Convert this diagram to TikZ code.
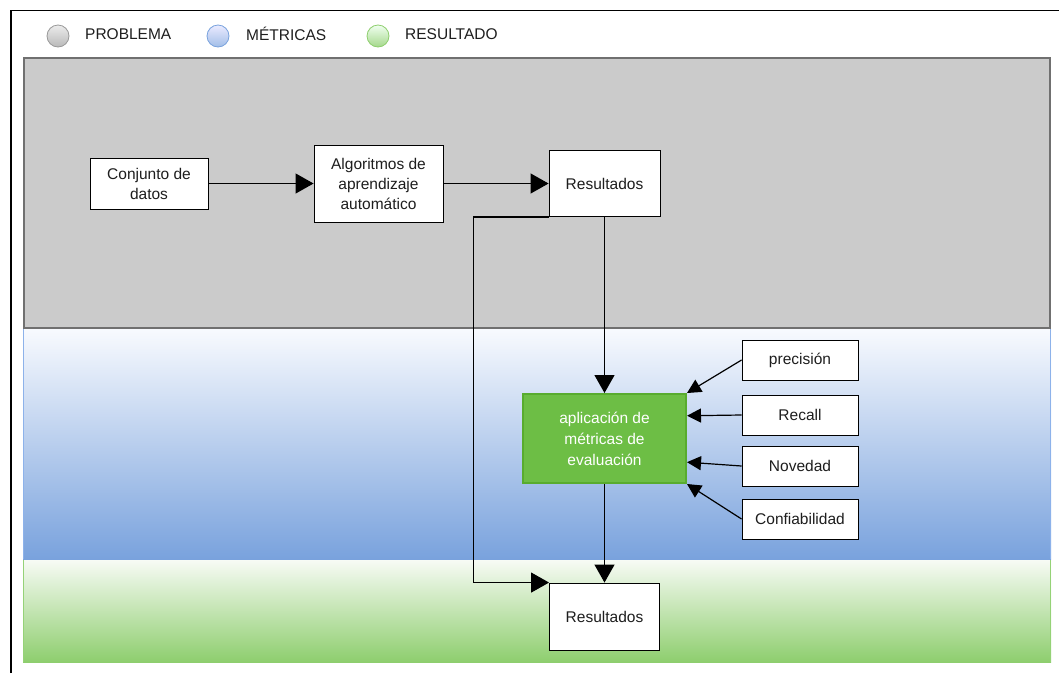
\documentclass[tikz,border=0pt]{standalone}
\usepackage{fontspec}
\setmainfont{Liberation Sans}
\usetikzlibrary{arrows.meta,calc}

\definecolor{ink}{HTML}{1E1E1E}
\definecolor{bandgray}{HTML}{CBCBCB}
\definecolor{bandgrayline}{HTML}{707070}
\definecolor{bluetop}{HTML}{F8FAFE}
\definecolor{bluebot}{HTML}{79A2DD}
\definecolor{blueline}{HTML}{8DB2EA}
\definecolor{greentop}{HTML}{F8FBF6}
\definecolor{greenbot}{HTML}{8ECE6E}
\definecolor{greenline}{HTML}{95D277}
\definecolor{appfill}{HTML}{6DBE45}
\definecolor{appline}{HTML}{58AC2E}

\begin{document}
\begin{tikzpicture}[x=1pt, y=-1pt,
  txt/.style={font=\fontsize{15.5}{20}\selectfont, text=ink},
  box/.style={txt, draw=black, line width=0.9pt, fill=white, align=center,
              inner sep=0pt},
  metric/.style={box, minimum width=116pt, minimum height=40pt},
  appbox/.style={draw=appline, line width=2pt, fill=appfill, align=center,
                 inner sep=0pt, text=white,
                 font=\fontsize{15.5}{21}\selectfont},
  flow/.style={draw=black, line width=1.2pt,
               -{Triangle[length=18pt,width=20pt]}},
  feed/.style={draw=black, line width=1.2pt,
               -{Triangle[length=14pt,width=14pt]}},
  legendtxt/.style={txt, anchor=west, inner sep=0pt},
]
\useasboundingbox (0,0) rectangle (1059,673);

% outer frame (top and left edges)
\draw[line width=1.2pt, black] (11,673) -- (11,10.5) -- (1059,10.5);

% legend
\shade[top color=gray!15, bottom color=gray!55, draw=gray!80, line width=0.8pt]
  (58,36) circle (11);
\node[legendtxt] (lgp) at (85,34) {PROBLEMA};
\shade[top color=blue!8, bottom color=bluebot!70, draw=bluebot, line width=0.8pt]
  (218,36) circle (11);
\node[legendtxt] (lgm) at (246,34) {MÉTRICAS};
\shade[top color=green!6, bottom color=greenbot!80, draw=greenbot, line width=0.8pt]
  (378,36) circle (11);
\node[legendtxt] (lgr) at (405,34) {RESULTADO};

% swim-lane bands
\shade[top color=bluetop, bottom color=bluebot] (23,329) rectangle (1051,559);
\draw[blueline, line width=1pt] (23.5,329) -- (23.5,559) (1050.5,329) -- (1050.5,559);
\shade[top color=greentop, bottom color=greenbot] (23,559) rectangle (1051,662);
\draw[greenline, line width=1pt] (23.5,559) -- (23.5,662) (1050.5,559) -- (1050.5,662);
\draw[bluebot, line width=1pt] (23,559) -- (1051,559);
\fill[bandgray] (23,57) rectangle (1051,328);
\draw[bandgrayline, line width=2.2pt] (24,58) rectangle (1050,328);

% process boxes
\node[box, minimum width=118pt, minimum height=51pt] (data) at (149,183.5)
  {Conjunto de\\datos};
\node[box, minimum width=129pt, minimum height=77pt] (algo) at (378.5,183.5)
  {Algoritmos de\\aprendizaje\\automático};
\node[box, minimum width=111pt, minimum height=66pt] (res1) at (604.5,183.5)
  {Resultados};
\node[appbox, minimum width=163pt, minimum height=89pt] (app) at (604.5,438.5)
  {aplicación de\\métricas de\\evaluación};
\node[metric] (prec) at (800,360) {precisión};
\node[metric] (rec)  at (800,415) {Recall};
\node[metric] (nov)  at (800,466) {Novedad};
\node[metric] (conf) at (800,519) {Confiabilidad};
\node[box, minimum width=110pt, minimum height=67pt] (res2) at (604.5,616.5)
  {Resultados};

% main flow
\draw[flow] (data.east) -- (algo.west);
\draw[flow] (algo.east) -- (res1.west |- algo.east);
\draw[flow] (res1.south) -- (app.north);
\draw[flow] (app.south) -- (res2.north);
\draw[flow] (res1.south west) -- ++(-75,0) |- (res2.north west);

% metrics feeding the evaluation step
\draw[feed] (prec.west) -- (app.north east);
\draw[feed] (rec.west)  -- ($(app.north east)!0.25!(app.south east)$);
\draw[feed] (nov.west)  -- ($(app.north east)!0.76!(app.south east)$);
\draw[feed] (conf.west) -- (app.south east);
\end{tikzpicture}
\end{document}
